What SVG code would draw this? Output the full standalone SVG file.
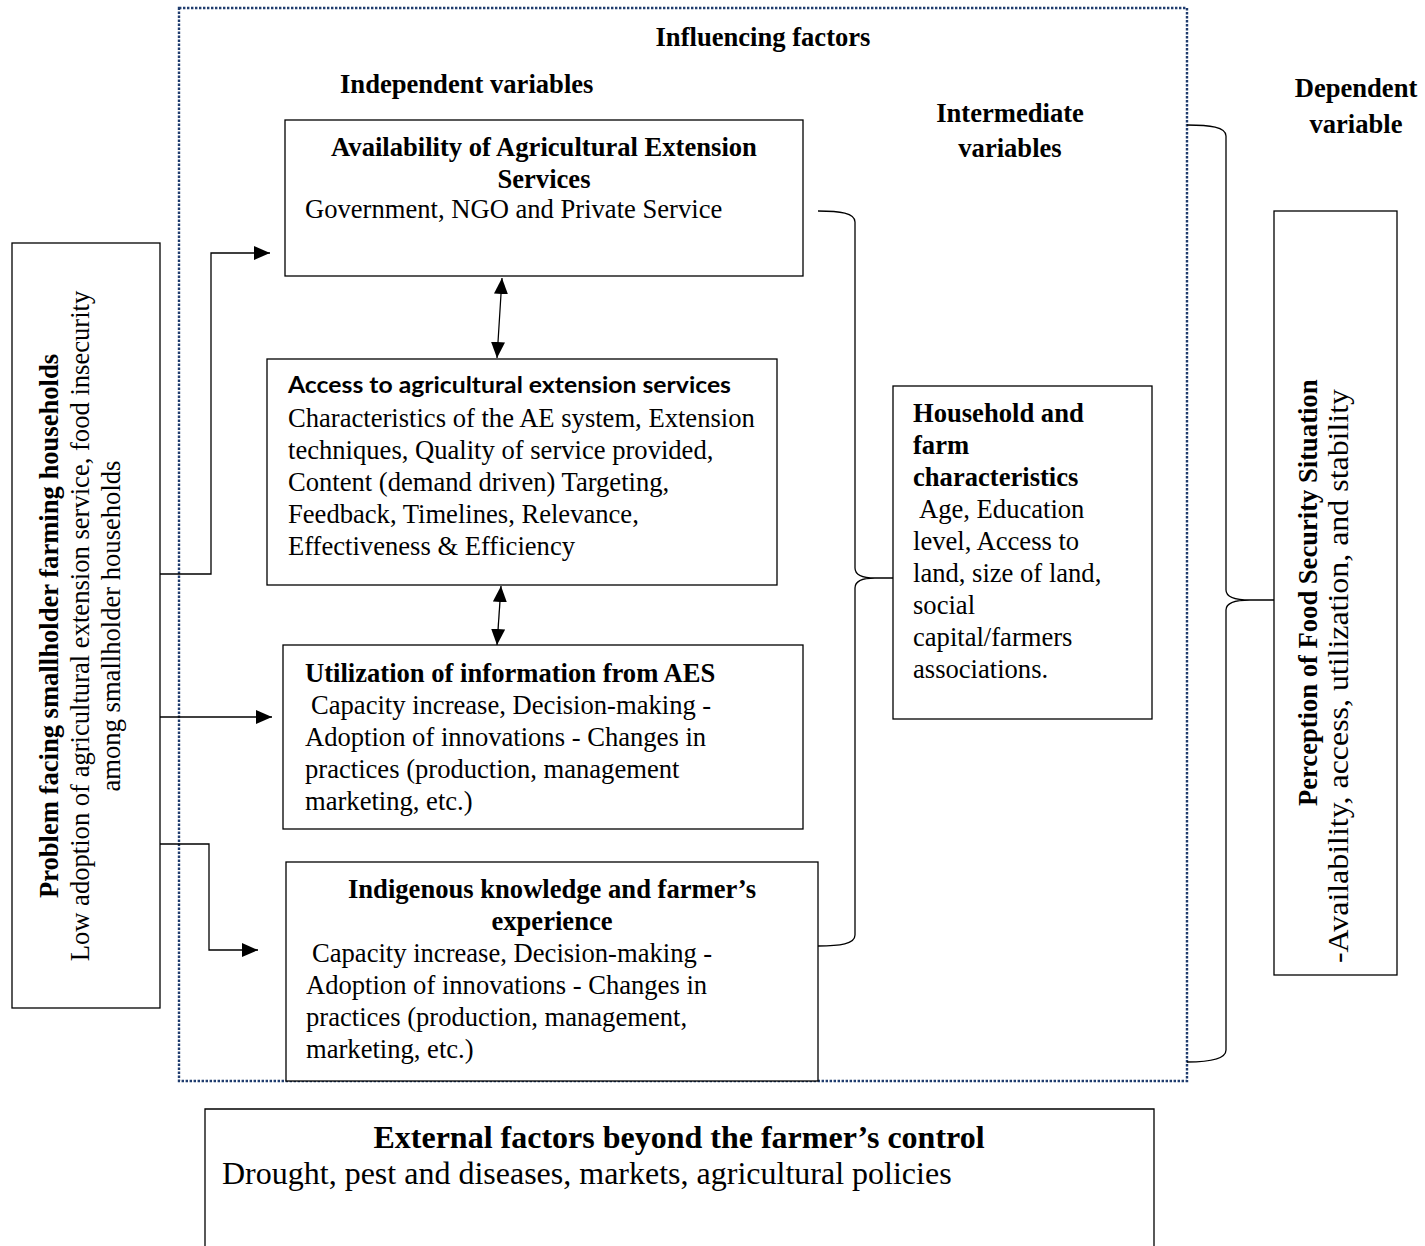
<svg xmlns="http://www.w3.org/2000/svg" width="1425" height="1246" viewBox="0 0 1425 1246">
<style>
.box{fill:#fff;stroke:#000;stroke-width:1.3}
.t{font-family:"Liberation Serif","Times New Roman",serif;font-size:26.6px;fill:#000}
.b{font-weight:bold}
.s{font-family:Lato,"Liberation Sans",Arial,sans-serif;font-size:23px;font-weight:bold;fill:#000}
.m{text-anchor:middle}
.conn{fill:none;stroke:#000;stroke-width:1.3}
.frame{fill:none;stroke:#1f3c6e;stroke-width:2.4;stroke-dasharray:2.4 1.6}
</style>
<defs>
<marker id="ah" viewBox="0 0 16 14" refX="16" refY="7" markerWidth="16" markerHeight="14" markerUnits="userSpaceOnUse" orient="auto-start-reverse">
<path d="M0,0 L16,7 L0,14 Z" fill="#000"/>
</marker>
</defs>
<rect id="frame" class="frame" x="179" y="8" width="1008" height="1073"/>
<g id="headers">
<text class="t b m" x="763" y="46">Influencing factors</text>
<text class="t b" x="340" y="93">Independent variables</text>
<text class="t b m" x="1010" y="122">Intermediate</text>
<text class="t b m" x="1010" y="157">variables</text>
<text class="t b m" x="1356" y="97">Dependent</text>
<text class="t b m" x="1356" y="133">variable</text>
</g>
<g id="connectors">
<path class="conn" d="M160,574 H211 V253 H270" marker-end="url(#ah)"/>
<path class="conn" d="M160,717 H272" marker-end="url(#ah)"/>
<path class="conn" d="M160,844 H209 V950 H258" marker-end="url(#ah)"/>
<path class="conn" d="M502,278 L497,358" marker-start="url(#ah)" marker-end="url(#ah)"/>
<path class="conn" d="M501,586 L497,645" marker-start="url(#ah)" marker-end="url(#ah)"/>
<path class="conn" d="M818,211 C840,211 855,213 855,222 V568 Q855,578 875,578 H893 M875,578 Q855,578 855,588 V935 C855,944 840,946 818,946"/>
<path class="conn" d="M1187,125 C1210,125 1226,127 1226,136 V590 Q1226,600 1250,600 H1274 M1250,600 Q1226,600 1226,610 V1050 C1226,1059 1210,1062 1187,1062"/>
</g>
<g id="problem">
<rect class="box" x="12" y="243" width="148" height="765"/>
<text class="t b m" transform="translate(58,626) rotate(-90)">Problem facing smallholder farming households</text>
<text class="t m" transform="translate(89,626) rotate(-90)">Low adoption of agricultural extension service, food insecurity</text>
<text class="t m" transform="translate(120,626) rotate(-90)">among smallholder households</text>
</g>
<g id="availability">
<rect class="box" x="285" y="120" width="518" height="156"/>
<text class="t b m" x="544" y="156">Availability of Agricultural Extension</text>
<text class="t b m" x="544" y="188">Services</text>
<text class="t" x="305" y="218">Government, NGO and Private Service</text>
</g>
<g id="access">
<rect class="box" x="267" y="359" width="510" height="226"/>
<text class="s" x="288" y="393" textLength="443" lengthAdjust="spacingAndGlyphs">Access to agricultural extension services</text>
<text class="t" x="288" y="427">Characteristics of the AE system, Extension</text>
<text class="t" x="288" y="459">techniques, Quality of service provided,</text>
<text class="t" x="288" y="491">Content (demand driven) Targeting,</text>
<text class="t" x="288" y="523">Feedback, Timelines, Relevance,</text>
<text class="t" x="288" y="555">Effectiveness &amp; Efficiency</text>
</g>
<g id="utilization">
<rect class="box" x="283" y="645" width="520" height="184"/>
<text class="t b" x="305" y="682">Utilization of information from AES</text>
<text class="t" x="311" y="714">Capacity increase, Decision-making -</text>
<text class="t" x="305" y="746">Adoption of innovations - Changes in</text>
<text class="t" x="305" y="778">practices (production, management</text>
<text class="t" x="305" y="810">marketing, etc.)</text>
</g>
<g id="indigenous">
<rect class="box" x="286" y="862" width="532" height="219"/>
<text class="t b m" x="552" y="898">Indigenous knowledge and farmer’s</text>
<text class="t b m" x="552" y="930">experience</text>
<text class="t" x="312" y="962">Capacity increase, Decision-making -</text>
<text class="t" x="306" y="994">Adoption of innovations - Changes in</text>
<text class="t" x="306" y="1026">practices (production, management,</text>
<text class="t" x="306" y="1058">marketing, etc.)</text>
</g>
<g id="household">
<rect class="box" x="893" y="386" width="259" height="333"/>
<text class="t b" x="913" y="422">Household and</text>
<text class="t b" x="913" y="454">farm</text>
<text class="t b" x="913" y="486">characteristics</text>
<text class="t" x="919" y="518">Age, Education</text>
<text class="t" x="913" y="550">level, Access to</text>
<text class="t" x="913" y="582">land, size of land,</text>
<text class="t" x="913" y="614">social</text>
<text class="t" x="913" y="646">capital/farmers</text>
<text class="t" x="913" y="678">associations.</text>
</g>
<g id="perception">
<rect class="box" x="1274" y="211" width="123" height="764"/>
<text class="t b" transform="translate(1317,806) rotate(-90)">Perception of Food Security Situation</text>
<text class="t" style="font-size:30px" transform="translate(1348,963) rotate(-90)" textLength="574" lengthAdjust="spacingAndGlyphs">-Availability, access, utilization, and stability</text>
</g>
<g id="external">
<path class="box" d="M205,1246 V1109 H1154 V1246"/>
<text class="t b m" style="font-size:32px" x="679" y="1148">External factors beyond the farmer’s control</text>
<text class="t" style="font-size:32px" x="222" y="1184">Drought, pest and diseases, markets, agricultural policies</text>
</g>
</svg>
